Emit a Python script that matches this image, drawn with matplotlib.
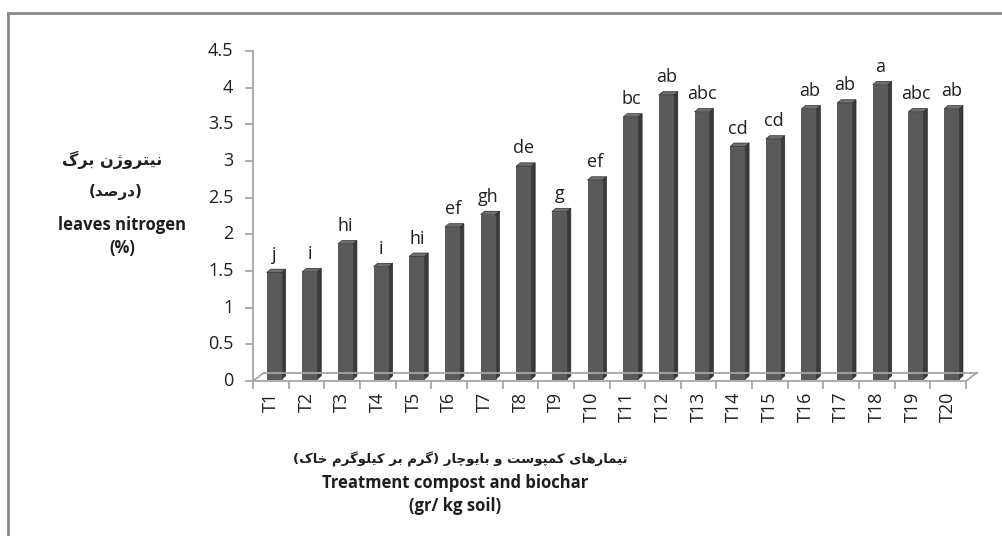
import matplotlib
matplotlib.use("Agg")
import matplotlib.pyplot as plt
from matplotlib.patches import Polygon
from matplotlib.lines import Line2D

# ---------------------------------------------------------------------------
# Data
# ---------------------------------------------------------------------------
treatments = [f"T{i}" for i in range(1, 21)]
nitrogen = [1.48, 1.49, 1.87, 1.56, 1.70, 2.10, 2.27, 2.93, 2.31, 2.74,
            3.60, 3.90, 3.67, 3.20, 3.30, 3.71, 3.79, 4.04, 3.67, 3.71]
letters = ["j", "i", "hi", "i", "hi", "ef", "gh", "de", "g", "ef",
           "bc", "ab", "abc", "cd", "cd", "ab", "ab", "a", "abc", "ab"]
yticks = [0, 0.5, 1, 1.5, 2, 2.5, 3, 3.5, 4, 4.5]
ytick_labels = ["0", "0.5", "1", "1.5", "2", "2.5", "3", "3.5", "4", "4.5"]

ylabel_fa = ["نیتروژن برگ", "(درصد)"]
ylabel_en = ["leaves nitrogen", "(%)"]
xlabel_fa = "تیمارهای کمپوست و بایوچار (گرم بر کیلوگرم خاک)"
xlabel_en = ["Treatment compost and biochar", "(gr/ kg soil)"]

# ---------------------------------------------------------------------------
# Minimal Persian shaping (matplotlib has no RTL / joining support)
# forms: isolated, final, initial, medial (None -> right-joining only)
# ---------------------------------------------------------------------------
FORMS = {
    "ا": ("\uFE8D", "\uFE8E", None, None),
    "ب": ("\uFE8F", "\uFE90", "\uFE91", "\uFE92"),
    "پ": ("\uFB56", "\uFB57", "\uFB58", "\uFB59"),
    "ت": ("\uFE95", "\uFE96", "\uFE97", "\uFE98"),
    "چ": ("\uFB7A", "\uFB7B", "\uFB7C", "\uFB7D"),
    "خ": ("\uFEA5", "\uFEA6", "\uFEA7", "\uFEA8"),
    "د": ("\uFEA9", "\uFEAA", None, None),
    "ر": ("\uFEAD", "\uFEAE", None, None),
    "ژ": ("\uFB8A", "\uFB8B", None, None),
    "س": ("\uFEB1", "\uFEB2", "\uFEB3", "\uFEB4"),
    "ص": ("\uFEB9", "\uFEBA", "\uFEBB", "\uFEBC"),
    "ک": ("\uFB8E", "\uFB8F", "\uFB90", "\uFB91"),
    "گ": ("\uFB92", "\uFB93", "\uFB94", "\uFB95"),
    "ل": ("\uFEDD", "\uFEDE", "\uFEDF", "\uFEE0"),
    "م": ("\uFEE1", "\uFEE2", "\uFEE3", "\uFEE4"),
    "ن": ("\uFEE5", "\uFEE6", "\uFEE7", "\uFEE8"),
    "ه": ("\uFEE9", "\uFEEA", "\uFEEB", "\uFEEC"),
    "و": ("\uFEED", "\uFEEE", None, None),
    "ی": ("\uFBFC", "\uFBFD", "\uFBFE", "\uFBFF"),
}
MIRROR = {"(": ")", ")": "("}


def shape_fa(text):
    out = []
    for i, c in enumerate(text):
        if c not in FORMS:
            out.append(MIRROR.get(c, c))
            continue
        prev = text[i - 1] if i > 0 else None
        nxt = text[i + 1] if i + 1 < len(text) else None
        join_prev = prev in FORMS and FORMS[prev][2] is not None
        join_next = nxt in FORMS and FORMS[c][2] is not None
        iso, fin, ini, med = FORMS[c]
        if join_prev and join_next:
            out.append(med)
        elif join_prev:
            out.append(fin)
        elif join_next:
            out.append(ini)
        else:
            out.append(iso)
    return "".join(reversed(out))


# ---------------------------------------------------------------------------
# Figure
# ---------------------------------------------------------------------------
plt.rcParams["font.family"] = ["Open Sans", "DejaVu Sans"]
W, H = 1003, 536
fig = plt.figure(figsize=(W / 100, H / 100), dpi=100)
ax = fig.add_axes([253 / W, 1 - 381 / H, 713 / W, 330 / H])
ax.set_xlim(0, 20)
ax.set_ylim(0, 4.5)
for s in ax.spines.values():
    s.set_visible(False)
ax.set_xticks([])
ax.set_yticks([])

axis_c = "#a6a6a6"
front_c, side_c, top_c = "#5a5a5a", "#3a3a3a", "#707070"
txt_c = "#1e1e1e"

# y axis line + ticks
ax.plot([0, 0], [0, 4.5], color=axis_c, lw=1.3, clip_on=False)
for v, lab in zip(yticks, ytick_labels):
    ax.plot([-0.2, 0], [v, v], color=axis_c, lw=1.3, clip_on=False)
    ax.text(-0.55, v, lab, ha="right", va="center", fontsize=13, color=txt_c)

# floor (3D base)
dx, dy = 0.31, 0.115
ax.plot([0, 20], [0, 0], color=axis_c, lw=1.3, clip_on=False)
ax.plot([dx, 20 + dx], [dy, dy], color=axis_c, lw=1.3, clip_on=False)
ax.plot([0, dx], [0, dy], color=axis_c, lw=1.3, clip_on=False)
ax.plot([20, 20 + dx], [0, dy], color=axis_c, lw=1.3, clip_on=False)
for i in range(21):
    ax.plot([i, i], [0, -0.09], color=axis_c, lw=1.3, clip_on=False)

# bars
bw, sx, sy, base = 0.42, 0.11, 0.045, 0.025
for i, (v, lab, name) in enumerate(zip(nitrogen, letters, treatments)):
    x0 = i + 0.385
    x1 = x0 + bw
    ax.add_patch(Polygon([(x1, base), (x1 + sx, base + sy), (x1 + sx, v + sy), (x1, v)],
                         closed=True, fc=side_c, ec="#2a2a2a", lw=0.5, clip_on=False))
    ax.add_patch(Polygon([(x0, v), (x1, v), (x1 + sx, v + sy), (x0 + sx, v + sy)],
                         closed=True, fc=top_c, ec="#2a2a2a", lw=0.5, clip_on=False))
    ax.add_patch(Polygon([(x0, base), (x1, base), (x1, v), (x0, v)],
                         closed=True, fc=front_c, ec="#3a3a3a", lw=0.5, clip_on=False))
    ax.text(i + 0.6, v + 0.12, lab, ha="center", va="bottom", fontsize=13, color=txt_c)
    ax.text(i + 0.5, -0.15, name, ha="center", va="top", rotation=90,
            fontsize=13, color=txt_c)

# axis titles
fa_font = ["DejaVu Sans"]
fig.text(112 / W, 1 - 160 / H, shape_fa(ylabel_fa[0]), ha="center", va="center",
         fontsize=11.5, fontweight="bold", family=fa_font, color=txt_c)
fig.text(116 / W, 1 - 192 / H, shape_fa(ylabel_fa[1]), ha="center", va="center",
         fontsize=11, fontweight="bold", family=fa_font, color=txt_c)
fig.text(122 / W, 1 - 225 / H, ylabel_en[0], ha="center", va="center",
         fontsize=12, fontweight="bold", color=txt_c)
fig.text(122 / W, 1 - 248 / H, ylabel_en[1], ha="center", va="center",
         fontsize=12, fontweight="bold", color=txt_c)

fig.text(460 / W, 1 - 459 / H, shape_fa(xlabel_fa), ha="center", va="center",
         fontsize=9.5, fontweight="bold", family=fa_font, color=txt_c)
fig.text(455 / W, 1 - 483 / H, xlabel_en[0], ha="center", va="center",
         fontsize=12, fontweight="bold", color=txt_c)
fig.text(455 / W, 1 - 506 / H, xlabel_en[1], ha="center", va="center",
         fontsize=12, fontweight="bold", color=txt_c)

# outer frame (top + left only, as cropped in the original)
fig.add_artist(Line2D([8 / W, 1], [1 - 13 / H, 1 - 13 / H], color="#8a8a8a", lw=2))
fig.add_artist(Line2D([8 / W, 8 / W], [0, 1 - 13 / H], color="#8a8a8a", lw=2))

fig.savefig("out.png", dpi=100)
